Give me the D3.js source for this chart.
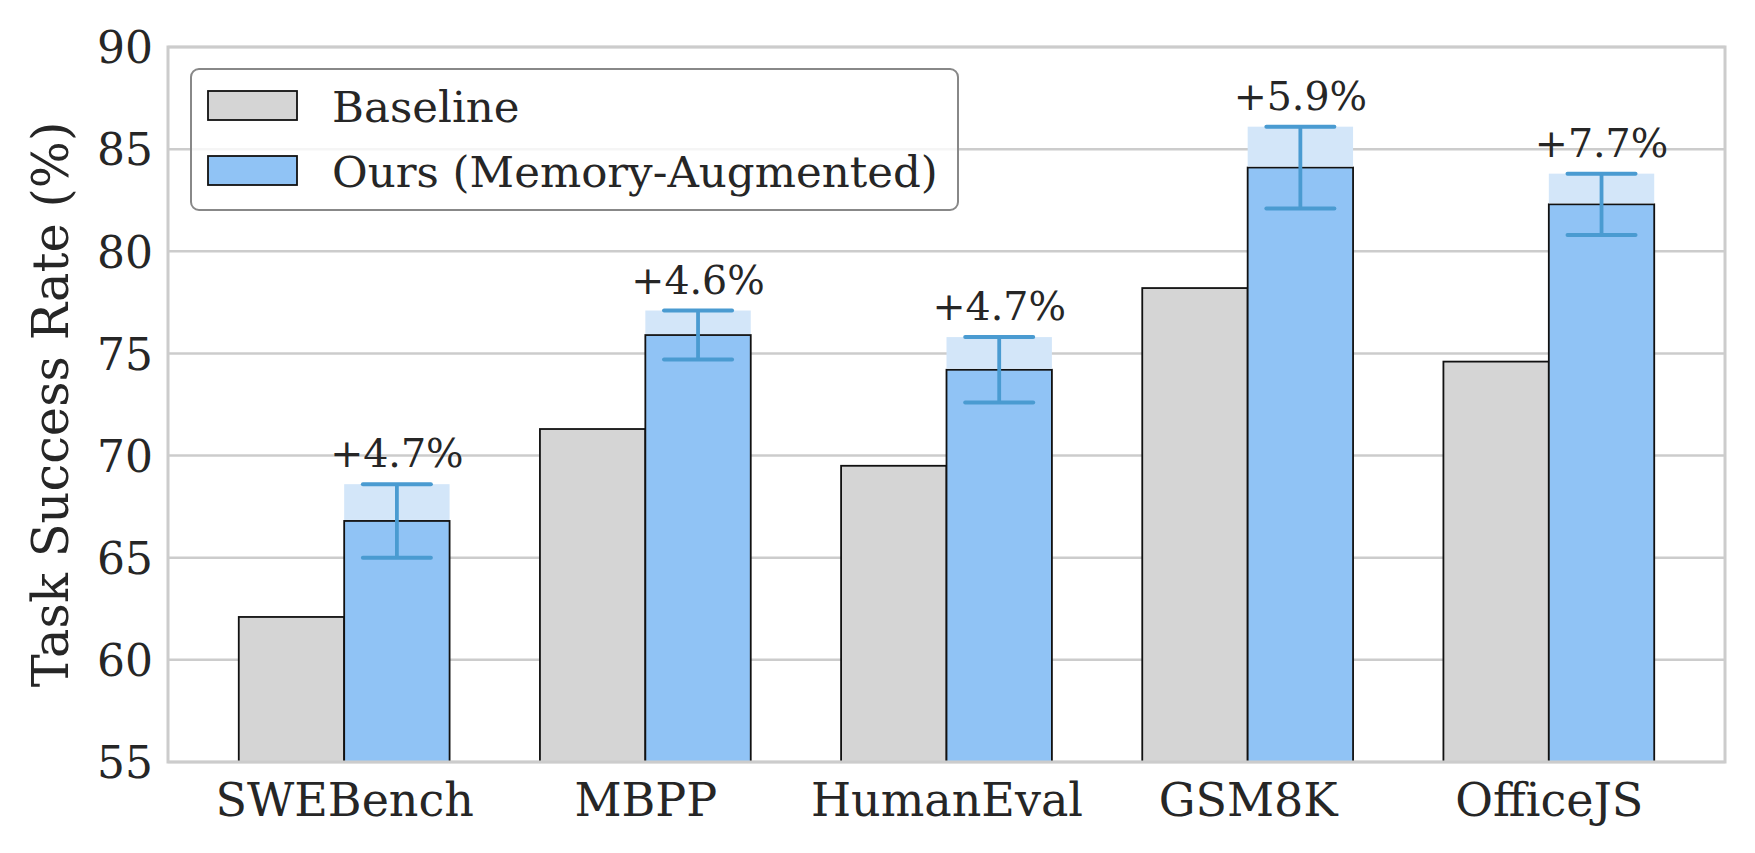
<!DOCTYPE html>
<html>
<head>
<meta charset="utf-8">
<script src="https://cdn.jsdelivr.net/npm/d3@7"></script>
<style>
  html, body { margin: 0; padding: 0; background: #fff; }
  svg text { font-family: "DejaVu Serif", serif; fill: #262626; }
</style>
</head>
<body>
<div id="chart"></div>
<script>
// DATA
const categories = ["SWEBench", "MBPP", "HumanEval", "GSM8K", "OfficeJS"];
const baseline = [62.1, 71.3, 69.5, 78.2, 74.6];
const ours = [66.8, 75.9, 74.2, 84.1, 82.3];
const oursErr = [1.8, 1.2, 1.6, 2.0, 1.5];
const yTicks = [55, 60, 65, 70, 75, 80, 85, 90];
const seriesNames = ["Baseline", "Ours (Memory-Augmented)"];

const W = 1755, H = 853;
const margin = { top: 47, right: 30, bottom: 91, left: 168 },
  width = W - margin.left - margin.right,
  height = H - margin.top - margin.bottom,
  gray = "#d5d5d5",
  blue = "#90c3f5",
  lightblue = "#d3e6f9",
  errBlue = "#4a9bd1",
  gridColor = "#cccccc";

const barW = 0.35;

const svg = d3
  .select("#chart")
  .append("svg")
  .attr("width", W)
  .attr("height", H);

const g = svg
  .append("g")
  .attr("transform", "translate(" + margin.left + "," + margin.top + ")");

// scales, matplotlib style 5% margins around the bars
const x = d3.scaleLinear().domain([-0.585, categories.length - 1 + 0.585]).range([0, width]);
const y = d3.scaleLinear().domain([55, 90]).range([height, 0]);

// grid lines
g.append("g")
  .attr("class", "grid")
  .selectAll("line")
  .data(yTicks)
  .enter()
  .append("line")
  .attr("x1", 0)
  .attr("x2", width)
  .attr("y1", d => y(d))
  .attr("y2", d => y(d))
  .attr("stroke", gridColor)
  .attr("stroke-width", 2.5);

// baseline bars
g.append("g")
  .selectAll("rect")
  .data(baseline)
  .enter()
  .append("rect")
  .attr("x", (d, i) => x(i - barW))
  .attr("y", d => y(d))
  .attr("width", x(barW) - x(0))
  .attr("height", d => y(55) - y(d))
  .attr("fill", gray)
  .attr("stroke", "#111")
  .attr("stroke-width", 1.8);

// ours bars
g.append("g")
  .selectAll("rect")
  .data(ours)
  .enter()
  .append("rect")
  .attr("x", (d, i) => x(i))
  .attr("y", d => y(d))
  .attr("width", x(barW) - x(0))
  .attr("height", d => y(55) - y(d))
  .attr("fill", blue)
  .attr("stroke", "#111")
  .attr("stroke-width", 1.8);

// light shaded band above each ours bar (up to the upper error)
g.append("g")
  .selectAll("rect")
  .data(ours)
  .enter()
  .append("rect")
  .attr("x", (d, i) => x(i))
  .attr("y", (d, i) => y(d + oursErr[i]))
  .attr("width", x(barW) - x(0))
  .attr("height", (d, i) => y(d) - y(d + oursErr[i]) - 1)
  .attr("fill", lightblue);

// error bars
const cap = 36;
const eb = g.append("g").attr("class", "errorbars");
ours.forEach((d, i) => {
  const cx = x(i + barW / 2);
  const lo = y(d - oursErr[i]), hi = y(d + oursErr[i]);
  eb.append("line")
    .attr("x1", cx).attr("x2", cx)
    .attr("y1", lo).attr("y2", hi)
    .attr("stroke", errBlue).attr("stroke-width", 3.8);
  [lo, hi].forEach(yy => {
    eb.append("line")
      .attr("x1", cx - cap + 2).attr("x2", cx + cap - 2)
      .attr("y1", yy).attr("y2", yy)
      .attr("stroke", errBlue)
      .attr("stroke-width", 4)
      .attr("stroke-linecap", "round");
  });
});

// improvement labels
const fmtGain = d3.format("+.1f");
g.append("g")
  .selectAll("text")
  .data(ours)
  .enter()
  .append("text")
  .attr("x", (d, i) => x(i + barW / 2))
  .attr("y", (d, i) => y(d + oursErr[i]) - 17)
  .attr("text-anchor", "middle")
  .style("font-size", "39.5px")
  .text((d, i) => fmtGain(d - baseline[i]) + "%");

// spines
g.append("rect")
  .attr("x", 0)
  .attr("y", 0)
  .attr("width", width)
  .attr("height", height)
  .attr("fill", "none")
  .attr("stroke", gridColor)
  .attr("stroke-width", 3);

// y axis tick labels
const yAxis = d3.axisLeft(y).tickValues(yTicks).tickSize(0).tickPadding(15);
g.append("g")
  .attr("class", "axis axis--y")
  .call(yAxis)
  .call(s => s.select(".domain").remove())
  .selectAll("text")
  .style("font-size", "44px")
  .attr("dy", "0.36em");

// x axis tick labels
const xAxis = d3
  .axisBottom(x)
  .tickValues(d3.range(categories.length))
  .tickFormat((d, i) => categories[i])
  .tickSize(0)
  .tickPadding(21);
g.append("g")
  .attr("class", "axis axis--x")
  .attr("transform", "translate(0," + height + ")")
  .call(xAxis)
  .call(s => s.select(".domain").remove())
  .selectAll("text")
  .style("font-size", "46px")
  .attr("dy", "0.71em");

// y axis label
svg
  .append("text")
  .attr("transform", "translate(" + 68 + "," + (margin.top + height / 2) + ") rotate(-90)")
  .attr("text-anchor", "middle")
  .style("font-size", "49.5px")
  .text("Task Success Rate (%)");

// legend
const legend = g.append("g").attr("class", "legend").attr("transform", "translate(23,22)");
legend
  .append("rect")
  .attr("width", 767)
  .attr("height", 141)
  .attr("rx", 8)
  .attr("fill", "#fff")
  .attr("fill-opacity", 0.8)
  .attr("stroke", "#888")
  .attr("stroke-width", 2);
const rows = legend
  .selectAll(".row")
  .data(seriesNames)
  .enter()
  .append("g")
  .attr("transform", (d, i) => "translate(17," + (37 + i * 65) + ")");
rows
  .append("rect")
  .attr("y", -15)
  .attr("width", 89)
  .attr("height", 29)
  .attr("fill", (d, i) => (i === 0 ? gray : blue))
  .attr("stroke", "#111")
  .attr("stroke-width", 1.8);
rows
  .append("text")
  .attr("x", 124)
  .attr("dy", "0.36em")
  .style("font-size", "43.5px")
  .text(d => d);
</script>
</body>
</html>
